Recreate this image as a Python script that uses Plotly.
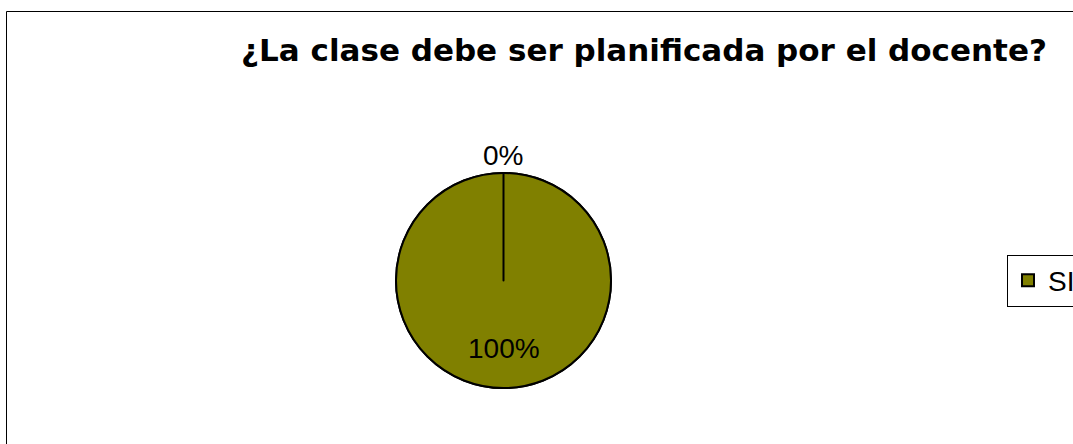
import math
import plotly.graph_objects as go

labels = ["SI", "NO"]
values = [100, 0]
colors = ["#808000", "#3366cc"]
legend_labels = ["SI"]
label_pos = ["inside", "outside"]
title_text = "¿La clase debe ser planificada por el docente?"

W, H = 1073, 444
cx_px, cy_px = 503.5, 280.5
R = 107.5
cx, cy = cx_px / W, 1 - cy_px / H
dw, dh = 2 * R / W, 2 * R / H

dom = dict(x=[cx - dw / 2, cx + dw / 2], y=[cy - dh / 2, cy + dh / 2])
line = dict(color="black", width=2)
tfont = dict(family="Liberation Sans, Arial", size=28, color="black")

fig = go.Figure()
# legend-only companion (hidden beneath the main pie)
fig.add_trace(go.Pie(
    labels=legend_labels, values=values[:1], sort=False,
    marker=dict(colors=colors[:1], line=line), textinfo="none",
    domain=dom, showlegend=True, hoverinfo="skip",
))
fig.add_trace(go.Pie(
    labels=labels, values=values, sort=False, direction="clockwise", rotation=0,
    marker=dict(colors=colors, line=line), textinfo="none",
    domain=dom, showlegend=False,
))

# percentage labels placed at each slice's mid-angle
total = sum(values)
start = 0.0
for v, pos in zip(values, label_pos):
    frac = v / total
    mid = (start + frac / 2) * 2 * math.pi
    start += frac
    dist = 0.63 * R if pos == "inside" else R + 18
    x_px = cx_px + dist * math.sin(mid)
    y_px = cy_px - dist * math.cos(mid)
    fig.add_annotation(
        x=x_px / W, y=1 - y_px / H, xref="paper", yref="paper",
        text=f"{frac:.0%}", showarrow=False, font=tfont,
        xanchor="center", yanchor="middle",
    )

fig.update_layout(
    width=W, height=H, margin=dict(l=0, r=0, t=0, b=0, autoexpand=False),
    paper_bgcolor="white", plot_bgcolor="white",
    title=dict(text="<b>" + title_text + "</b>", x=644 / W, xanchor="center", y=1 - 50 / H, yanchor="middle",
               font=dict(family="DejaVu Sans", size=31, color="black")),
    legend=dict(x=1007 / W, xanchor="left", y=1 - 280.5 / H, yanchor="middle",
                bordercolor="black", borderwidth=1, font=tfont),
    shapes=[dict(type="rect", xref="paper", yref="paper", x0=6.5 / W, x1=1.2, y0=-0.2, y1=1 - 11.5 / H,
                 line=dict(color="black", width=1), layer="below")],
)
fig.write_html("out.html", config={"displayModeBar": False},
               post_script="document.body.style.margin='0';document.body.style.overflow='hidden';")
